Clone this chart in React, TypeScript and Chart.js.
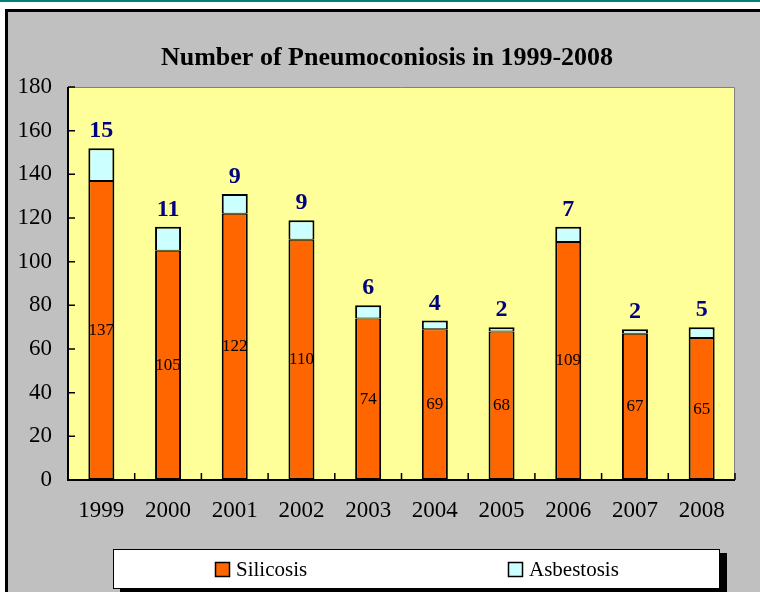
import React, { useEffect, useRef } from "react";
import { Chart, registerables } from "chart.js";

Chart.register(...registerables);

const years = ["1999", "2000", "2001", "2002", "2003", "2004", "2005", "2006", "2007", "2008"];
const silicosis = [137, 105, 122, 110, 74, 69, 68, 109, 67, 65];
const asbestosis = [15, 11, 9, 9, 6, 4, 2, 7, 2, 5];
const titleText = "Number of Pneumoconiosis in 1999-2008";
const SERIF = '"Liberation Serif", "Times New Roman", serif';

const framePlugin = {
  id: "frame",
  beforeDraw(chart: any) {
    const { ctx, width, height, chartArea } = chart;
    ctx.save();
    ctx.fillStyle = "#ffffff";
    ctx.fillRect(0, 0, width, height);
    ctx.fillStyle = "#008080";
    ctx.fillRect(0, 0, width, 2);
    ctx.fillStyle = "#000000";
    ctx.fillRect(5, 9, width, height);
    ctx.fillStyle = "#c0c0c0";
    ctx.fillRect(8, 12, width, height);
    ctx.fillStyle = "#ffff99";
    ctx.fillRect(chartArea.left, chartArea.top, chartArea.right - chartArea.left, chartArea.bottom - chartArea.top);
    // title
    ctx.fillStyle = "#000000";
    ctx.font = `bold 26px ${SERIF}`;
    ctx.textAlign = "center";
    ctx.textBaseline = "middle";
    ctx.fillText(titleText, 387, 58);
    ctx.restore();
  },
  afterDatasetsDraw(chart: any) {
    const { ctx, chartArea, scales } = chart;
    const xs = scales.x;
    const ys = scales.y;
    ctx.save();
    ctx.strokeStyle = "#808080";
    ctx.lineWidth = 1;
    ctx.beginPath();
    ctx.moveTo(chartArea.left, chartArea.top + 0.5);
    ctx.lineTo(chartArea.right - 0.5, chartArea.top + 0.5);
    ctx.lineTo(chartArea.right - 0.5, chartArea.bottom);
    ctx.stroke();
    ctx.strokeStyle = "#000000";
    ctx.lineWidth = 2;
    ctx.beginPath();
    ctx.moveTo(chartArea.left, chartArea.top);
    ctx.lineTo(chartArea.left, chartArea.bottom);
    ctx.lineTo(chartArea.right, chartArea.bottom);
    ctx.stroke();
    ctx.lineWidth = 1.5;
    ctx.beginPath();
    ys.ticks.forEach((t: any) => {
      const y = ys.getPixelForValue(t.value);
      ctx.moveTo(chartArea.left, y);
      ctx.lineTo(chartArea.left + 7, y);
    });
    const step = xs.getPixelForValue(1) - xs.getPixelForValue(0);
    for (let i = 0; i <= years.length; i++) {
      const x = xs.getPixelForValue(0) - step / 2 + i * step;
      ctx.moveTo(x, chartArea.bottom);
      ctx.lineTo(x, chartArea.bottom - 7);
    }
    ctx.stroke();

    ctx.textAlign = "center";
    ctx.textBaseline = "middle";
    ctx.fillStyle = "#000000";
    ctx.font = `17px ${SERIF}`;
    silicosis.forEach((v, i) => {
      ctx.fillText(String(v), xs.getPixelForValue(i), ys.getPixelForValue(v / 2));
    });
    ctx.fillStyle = "#000080";
    ctx.font = `bold 24px ${SERIF}`;
    ctx.textBaseline = "alphabetic";
    asbestosis.forEach((v, i) => {
      ctx.fillText(String(v), xs.getPixelForValue(i), ys.getPixelForValue(silicosis[i] + v) - 11);
    });

    const lx = 113, ly = 549, lw = 607, lh = 40;
    ctx.fillStyle = "#000000";
    ctx.fillRect(lx + 7, ly + 4, lw, lh + 6);
    ctx.fillStyle = "#ffffff";
    ctx.fillRect(lx, ly, lw, lh);
    ctx.strokeStyle = "#000000";
    ctx.lineWidth = 1;
    ctx.strokeRect(lx + 0.5, ly + 0.5, lw - 1, lh - 1);
    const items = chart.data.datasets.map((d: any) => ({ label: d.label, color: d.backgroundColor }));
    const itemX = [215, 508];
    ctx.font = `21px ${SERIF}`;
    ctx.textAlign = "left";
    ctx.textBaseline = "middle";
    items.forEach((it: any, k: number) => {
      const bx = itemX[k];
      const by = 562;
      ctx.fillStyle = it.color;
      ctx.fillRect(bx, by, 14, 14);
      ctx.strokeStyle = "#000000";
      ctx.lineWidth = 1.5;
      ctx.strokeRect(bx + 0.5, by + 0.5, 14, 14);
      ctx.fillStyle = "#000000";
      ctx.fillText(it.label, bx + 21, by + 8);
    });
    ctx.restore();
  },
};

export default function App() {
  const ref = useRef<HTMLCanvasElement>(null);
  useEffect(() => {
    document.body.style.margin = "0";
    const chart = new Chart(ref.current!, {
      type: "bar",
      data: {
        labels: years,
        datasets: [
          {
            label: "Silicosis",
            data: silicosis,
            backgroundColor: "#ff6600",
            borderColor: "#000000",
            borderWidth: { top: 1, left: 2, right: 2, bottom: 2 },
            borderSkipped: false,
            barPercentage: 0.39,
            categoryPercentage: 1,
          },
          {
            label: "Asbestosis",
            data: asbestosis,
            backgroundColor: "#ccffff",
            borderColor: "#000000",
            borderWidth: { top: 2, left: 2, right: 2, bottom: 1 },
            borderSkipped: false,
            barPercentage: 0.39,
            categoryPercentage: 1,
          },
        ],
      },
      options: {
        animation: false,
        responsive: false,
        layout: { padding: { left: 8, right: 25, top: 87, bottom: 52 } },
        plugins: {
          legend: { display: false },
          tooltip: { enabled: false },
          title: { display: false },
        },
        scales: {
          x: {
            stacked: true,
            grid: { display: false, drawTicks: false },
            border: { display: false },
            ticks: { color: "#000000", font: { family: SERIF, size: 23 }, padding: 17, maxRotation: 0 },
            afterFit: (s: any) => { s.height = 60; },
          },
          y: {
            stacked: true,
            min: 0,
            max: 180,
            grid: { display: false, drawTicks: false },
            border: { display: false },
            ticks: { stepSize: 20, color: "#000000", font: { family: SERIF, size: 23 }, padding: 16 },
            afterFit: (s: any) => { s.width = 60; },
          },
        },
      },
      plugins: [framePlugin],
    } as any);
    return () => chart.destroy();
  }, []);
  return <canvas ref={ref} width={760} height={592} style={{ display: "block" }} />;
}
